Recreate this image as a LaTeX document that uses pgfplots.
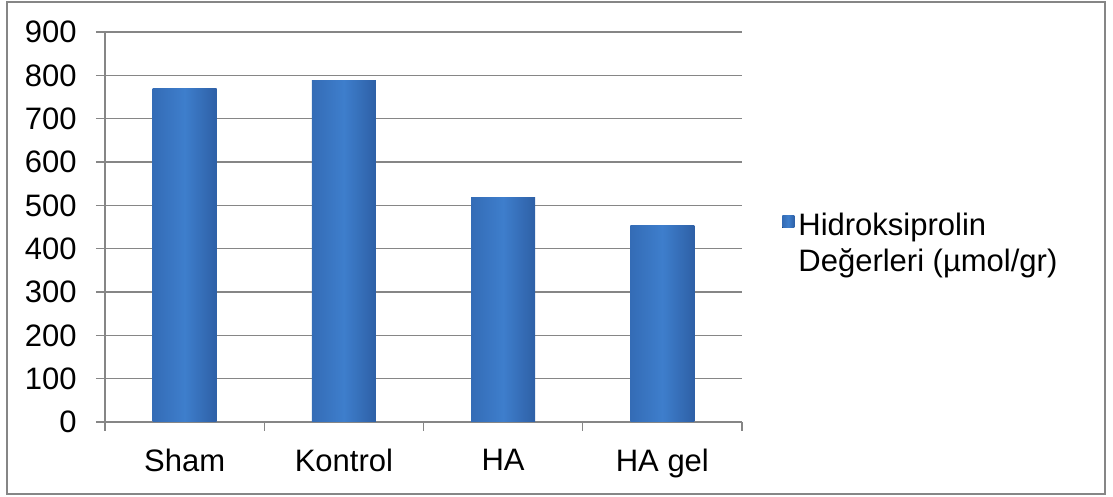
\documentclass[border=0pt]{standalone}
\usepackage{pgfplots}
\pgfplotsset{compat=1.18}
\usepackage{fontspec}
\setmainfont{Liberation Sans}
\definecolor{gridgray}{RGB}{134,134,134}
\definecolor{framegray}{RGB}{134,134,134}
\definecolor{barL}{RGB}{52,108,182}
\definecolor{barM}{RGB}{62,126,204}
\definecolor{barR}{RGB}{46,96,166}
\begin{document}
\begin{tikzpicture}
\useasboundingbox (-52.5pt,-37.5pt) rectangle (504pt,211pt);
\draw[framegray, line width=1pt] (-49pt,-36pt) rectangle (500pt,210pt);
\begin{axis}[
  at={(0,0)}, anchor=south west,
  scale only axis, width=318.5pt, height=195pt,
  xmin=-0.5, xmax=3.5, ymin=0, ymax=900,
  ytick={0,100,...,900},
  xtick={-0.5,0.5,1.5,2.5,3.5}, xticklabels={},
  extra x ticks={0,1,2,3},
  extra x tick labels={Sham,Kontrol,HA,HA gel},
  extra x tick style={major tick length=0pt, grid=none},
  axis x line*=bottom, axis y line*=left,
  axis line style={gridgray, line width=0.6pt, -},
  tick align=outside,
  major tick length=4.5pt,
  tick style={gridgray, line width=0.6pt},
  ymajorgrids, grid style={gridgray, line width=0.6pt},
  /pgf/number format/assume math mode=true,
  ticklabel style={font=\fontsize{15.5}{19.2}\selectfont, inner sep=0pt},
  yticklabel style={anchor=east, xshift=-9.5pt},
  xticklabel style={anchor=north, yshift=-13.5pt},
  legend style={at={(axis description cs:1.0628,0.537)}, anchor=north west,
    draw=none, fill=none, inner sep=0pt, column sep=2pt,
    nodes={inner sep=0pt, align=left},
    font=\fontsize{15.5}{18.2}\selectfont},
  legend cell align=left,
  legend image code/.code={\fill[left color=barL, right color=barR, middle color=barM] (0pt,8.2pt) rectangle (6pt,14.2pt);},
  every axis plot/.append style={ybar, bar width=32pt, bar shift=0pt, draw=none, mark=none, left color=barL, right color=barR, middle color=barM},
]
\addplot[] coordinates {(0,770)};
\addlegendentry{Hidroksiprolin\\Değerleri (µmol/gr)}
\addplot[forget plot] coordinates {(1,788)};
\addplot[forget plot] coordinates {(2,519)};
\addplot[forget plot] coordinates {(3,454)};
\end{axis}
\end{tikzpicture}
\end{document}
